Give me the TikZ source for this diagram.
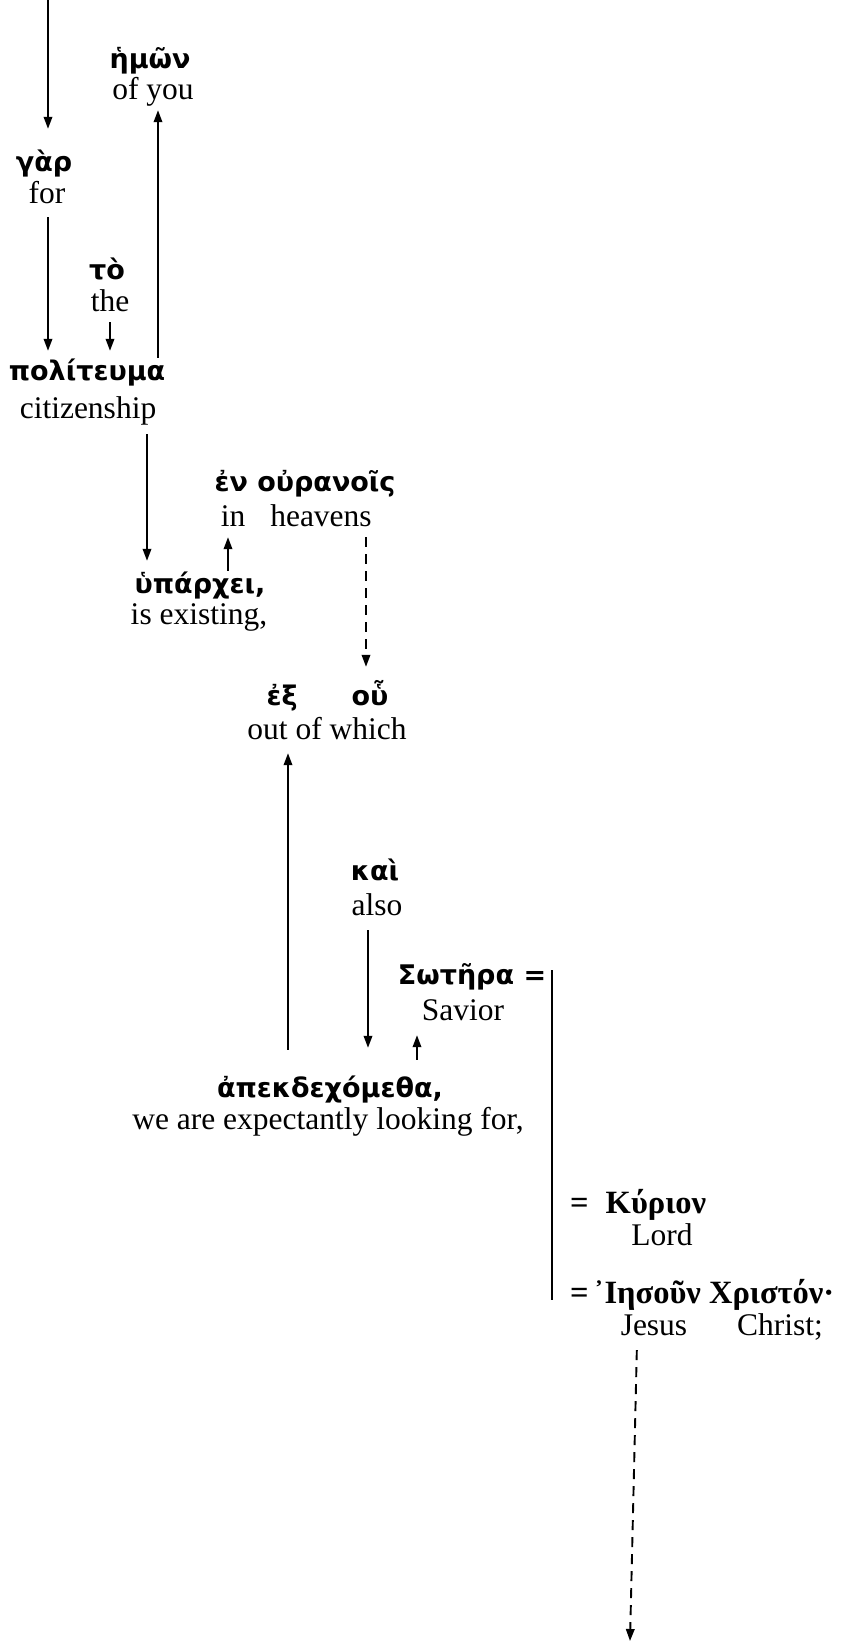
\documentclass[tikz,border=0pt]{standalone}
\usepackage{fontspec}
\setmainfont{Liberation Serif}
\newfontfamily\grkfont{DejaVu Sans}
\usetikzlibrary{arrows.meta}
\begin{document}
\begin{tikzpicture}[x=1pt,y=-1pt,
  eng/.style={font=\fontsize{31.5}{36}\selectfont, inner sep=0pt, text height=21pt, text depth=7pt, anchor=base},
  grk/.style={font=\grkfont\bfseries\fontsize{27}{32}\selectfont, inner sep=0pt, text height=22pt, text depth=7pt, anchor=base},
  grs/.style={font=\bfseries\fontsize{32.5}{36}\selectfont, inner sep=0pt, text height=22pt, text depth=7pt, anchor=base west},
  arr/.style={line width=1.9pt, -{Triangle[length=12pt,width=8.5pt]}},
  darr/.style={arr, dash pattern=on 10pt off 7pt},
  brk/.style={line width=1.6pt}]
\useasboundingbox (0,0) rectangle (856,1641);

\node[grk] (hmon) at (150,68) {ἡμῶν};
\node[eng] (ofyou) at (153,99) {of you};
\node[grk] (gar) at (44,171) {γὰρ};
\node[eng] (for) at (47,203) {for};
\node[grk] (to) at (107,279) {τὸ};
\node[eng] (the) at (110,311) {the};
\node[grk] (polit) at (87,380) {πολίτευμα};
\node[eng] (citizen) at (88,418) {citizenship};
\node[grk] (enour) at (305,491) {ἐν οὐρανοῖς};
\node[eng] (in) at (233,526) {in};
\node[eng] (heavens) at (321,526) {heavens};
\node[grk] (hyp) at (200,593) {ὑπάρχει,};
\node[eng] (isex) at (199,624) {is existing,};
\node[grk] (ex) at (282,705) {ἐξ};
\node[grk] (hou) at (370,705) {οὗ};
\node[eng] (outof) at (327,739) {out of which};
\node[grk] (kai) at (375,880) {καὶ};
\node[eng] (also) at (377,915) {also};
\node[grk] (soter) at (472,984) {Σωτῆρα =};
\node[eng] (savior) at (463,1020) {Savior};
\node[grk] (apek) at (330,1097) {ἀπεκδεχόμεθα,};
\node[eng] (weare) at (328,1129) {we are expectantly looking for,};
\node[grs] (kyrion) at (570,1213) {=\hspace{17pt}Κύριον};
\node[eng] (lord) at (662,1245) {Lord};
\node[grs] (iesous) at (570,1303) {=\hspace{5pt}᾿Ιησοῦν Χριστόν·};
\node[eng] (jesus) at (654,1335) {Jesus};
\node[eng] (christ) at (780,1335) {Christ;};

\coordinate (topin) at (48,0);
\coordinate (jend) at (630,1641);
\coordinate (brtop) at (552,970);
\coordinate (brbot) at (552,1300);

\draw[arr, shorten >=20pt] (topin) -- (gar.north -| topin);
\draw[arr, shorten <=7pt, shorten >=7pt] (for.south -| 48,0) -- (polit.north -| 48,0);
\draw[arr, shorten <=4pt, shorten >=7pt] (the.south -| 110,0) -- (polit.north -| 110,0);
\draw[arr, shorten >=4pt] (polit.north -| 158,0) -- (ofyou.south -| 158,0);
\draw[arr, shorten <=9pt, shorten >=10pt] (citizen.south -| 147,0) -- (hyp.north -| 147,0);
\draw[arr, shorten >=4pt] (hyp.north -| 228,0) -- (in.south -| 228,0);
\draw[darr, shorten <=4pt, shorten >=16pt] (heavens.south -| 366,0) -- (hou.north -| 366,0);
\draw[arr, shorten <=25pt, shorten >=7pt] (apek.north -| 288,0) -- (outof.south -| 288,0);
\draw[arr, shorten <=8pt, shorten >=27pt] (also.south -| 368,0) -- (apek.north -| 368,0);
\draw[arr, shorten <=15pt, shorten >=8pt] (apek.north -| 417,0) -- (savior.south -| 417,0);
\draw[darr, shorten <=8pt] (jesus.south -| 637,0) -- (jend);
\draw[brk] (brtop) -- (brbot);
\end{tikzpicture}
\end{document}
